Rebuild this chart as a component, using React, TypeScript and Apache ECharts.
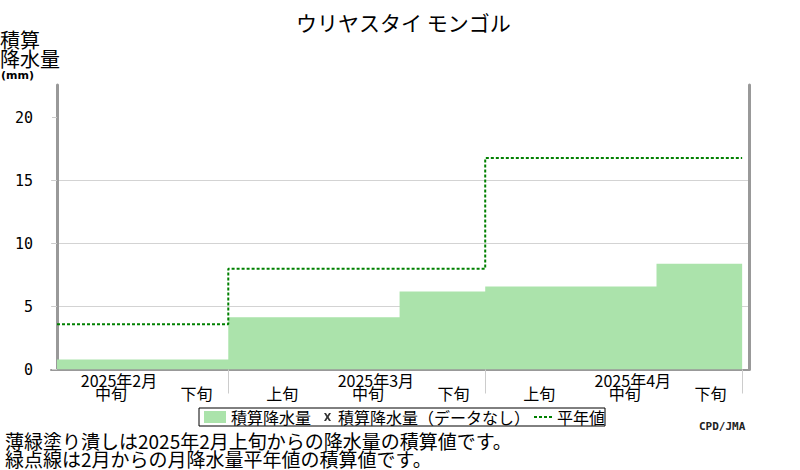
import React, { useEffect, useRef } from 'react';
import * as echarts from 'echarts';

// dekads shown on the x axis (Feb mid .. Apr late)
const dekadLabels = ['中旬', '下旬', '上旬', '中旬', '下旬', '上旬', '中旬', '下旬'];
// month caption printed above the 中旬 label of each month
const monthLabels = ['2025年2月', '', '', '2025年3月', '', '', '2025年4月', ''];
// cumulative precipitation per dekad (mm)
const cumulativePrecip = [0.8, 0.8, 4.15, 4.15, 6.2, 6.6, 6.6, 8.4];
// cumulative monthly normal (mm)
const normalCumulative = [3.6, 3.6, 8.0, 8.0, 8.0, 16.8, 16.8, 16.8];
// month boundaries (in dekad units) for the separator ticks
const monthBoundaries = [2, 5, 8];
const yTicks = [0, 5, 10, 15, 20];

const JP = '"Noto Sans CJK JP", sans-serif';
const LABEL_SHIFT = 0.63;

// closes the step so the last dekad gets its full width
const stepPoints = (vals: number[]) => {
  const pts = vals.map((v, i) => [i, v]);
  pts.push([vals.length, vals[vals.length - 1]]);
  return pts;
};

// legend icons inside a 22x12 box (tiny corner specks fix the box size)
const BOX = 'path://M0,0L0.05,0L0.05,0.05Z M22,12L21.95,12L21.95,11.95Z ';
const crossIcon =
  BOX + 'M13,2L15,2L16.5,4.6L18,2L20,2L17.6,6L20,10L18,10L16.5,7.4L15,10L13,10L15.4,6Z';
const dottedIcon =
  BOX + 'M4,5h3v2h-3Z M9,5h3v2h-3Z M14,5h3v2h-3Z M19,5h3v2h-3Z';

const App: React.FC = () => {
  const chartRef = useRef<HTMLDivElement>(null);

  useEffect(() => {
    if (!chartRef.current) return;
    const chart = echarts.init(chartRef.current, undefined, { renderer: 'svg' });

    const option: any = {
      animation: false,
      backgroundColor: '#fff',
      title: [
        {
          text: 'ウリヤスタイ モンゴル',
          left: 296,
          top: 11,
          padding: 0,
          textStyle: { fontSize: 21, fontWeight: 'normal', color: '#000', fontFamily: JP }
        },
        {
          text: '積算\n降水量',
          left: 0,
          top: 30,
          padding: 0,
          textStyle: { fontSize: 20, lineHeight: 19, fontWeight: 'normal', color: '#000', fontFamily: JP }
        },
        {
          text: '(mm)',
          left: 1,
          top: 70,
          padding: 0,
          textStyle: { fontSize: 11, fontWeight: 'bold', color: '#000', fontFamily: '"DejaVu Sans", sans-serif' }
        },
        {
          text: '薄緑塗り潰しは2025年2月上旬からの降水量の積算値です。\n緑点線は2月からの月降水量平年値の積算値です。',
          left: 5,
          top: 431,
          padding: 0,
          textStyle: { fontSize: 19, lineHeight: 18, fontWeight: 'normal', color: '#000', fontFamily: JP }
        },
        {
          text: 'CPD/JMA',
          left: 699,
          top: 421,
          padding: 0,
          textStyle: { fontSize: 11, fontWeight: 'bold', color: '#222', fontFamily: '"DejaVu Sans Mono", monospace' }
        }
      ],
      legend: {
        left: 199,
        top: 408,
        padding: [1, 0, 1, 5],
        itemGap: 0,
        itemWidth: 22,
        itemHeight: 12,
        borderColor: '#000',
        borderWidth: 1,
        backgroundColor: '#fff',
        selectedMode: false,
        textStyle: { fontSize: 16, color: '#000', fontFamily: JP },
        data: [
          { name: '積算降水量', icon: 'rect' },
          { name: '積算降水量（データなし）', icon: crossIcon },
          { name: '平年値', icon: dottedIcon, itemStyle: { color: '#008000', borderWidth: 0 } }
        ]
      },
      grid: { left: 51, right: 51, top: 85, bottom: 100.5 },
      xAxis: {
        type: 'value',
        min: -0.07,
        max: 8.08,
        splitLine: { show: false },
        axisLine: { show: true, lineStyle: { color: '#999', width: 2 } },
        axisTick: {
          show: true,
          customValues: monthBoundaries,
          length: 24,
          lineStyle: { color: '#ccc', width: 1 }
        },
        axisLabel: {
          customValues: dekadLabels.map((_, i) => i + LABEL_SHIFT),
          margin: 4,
          formatter: (v: number) => {
            const i = Math.round(v - LABEL_SHIFT);
            const m = monthLabels[i] ? monthLabels[i] : ' ';
            return `{m|${m}}\n{d|${dekadLabels[i]}}`;
          },
          rich: {
            m: { fontSize: 16, lineHeight: 13, color: '#000', fontFamily: JP, padding: [0, 0, 0, 16] },
            d: { fontSize: 16, lineHeight: 13, color: '#000', fontFamily: JP }
          }
        }
      },
      yAxis: [
        {
          type: 'value',
          min: 0,
          max: 22.6,
          interval: 5,
          axisLine: { show: true, lineStyle: { color: '#999', width: 3 } },
          axisTick: { show: true, customValues: yTicks, length: 5, lineStyle: { color: '#ccc' } },
          axisLabel: {
            customValues: yTicks,
            margin: 18,
            fontSize: 15,
            color: '#000',
            fontFamily: '"DejaVu Sans Mono", monospace'
          },
          splitLine: { show: true, showMinLine: false, showMaxLine: false, lineStyle: { color: '#d3d3d3', width: 1 } }
        },
        {
          type: 'value',
          position: 'right',
          min: 0,
          max: 22.6,
          axisLine: { show: true, lineStyle: { color: '#999', width: 3 } },
          axisTick: { show: false },
          axisLabel: { show: false },
          splitLine: { show: false }
        }
      ],
      series: [
        {
          name: '積算降水量',
          type: 'line',
          step: 'end',
          data: stepPoints(cumulativePrecip),
          showSymbol: false,
          symbol: 'none',
          color: '#abe3ab',
          itemStyle: { color: '#abe3ab' },
          lineStyle: { width: 0, color: '#abe3ab' },
          areaStyle: { color: '#abe3ab', opacity: 1 },
          z: 2
        },
        {
          name: '積算降水量（データなし）',
          type: 'scatter',
          data: [],
          symbol: crossIcon,
          itemStyle: { color: '#000' }
        },
        {
          name: '平年値',
          type: 'line',
          step: 'end',
          data: stepPoints(normalCumulative),
          showSymbol: false,
          symbol: 'none',
          color: '#008000',
          itemStyle: { color: '#008000', borderWidth: 0 },
          lineStyle: { color: '#008000', width: 2, type: [3, 2] },
          z: 3
        }
      ]
    };

    chart.setOption(option);
    return () => {
      chart.dispose();
    };
  }, []);

  return (
    <div
      ref={chartRef}
      style={{ position: 'absolute', left: 0, top: 0, width: '800px', height: '470px' }}
    />
  );
};

export default App;
